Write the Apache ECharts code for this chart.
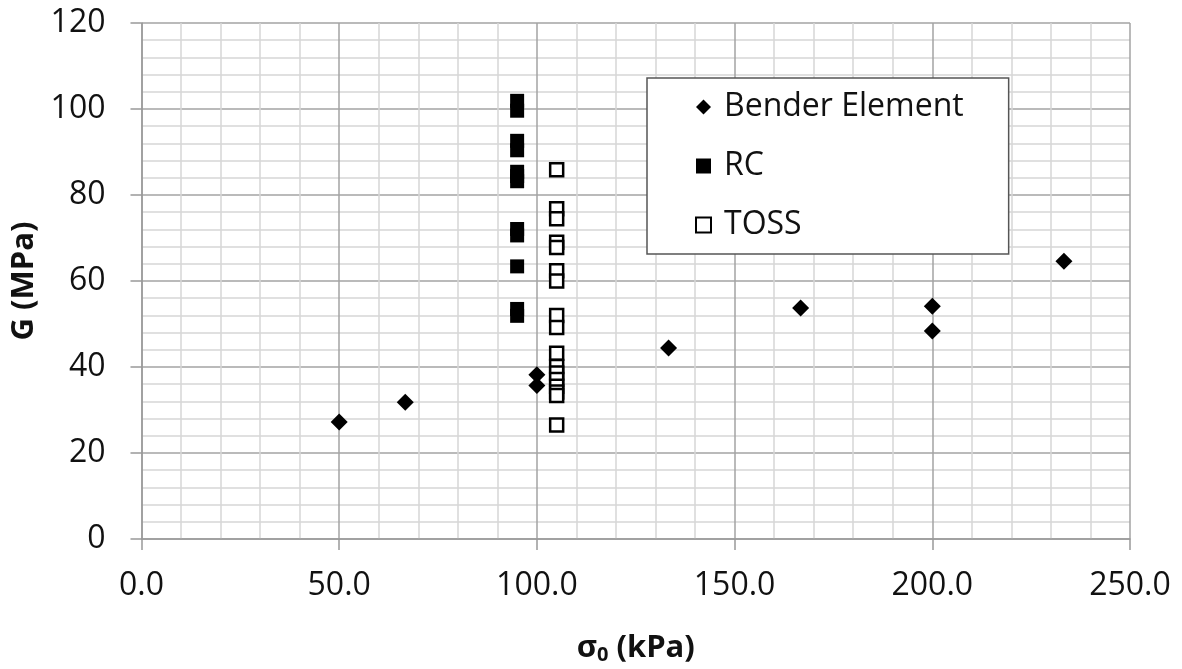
<!DOCTYPE html>
<html>
<head>
<meta charset="utf-8">
<script src="https://cdn.jsdelivr.net/npm/echarts@6/dist/echarts.min.js"></script>
<style>
  html, body { margin: 0; padding: 0; background: #fff; }
  #main { width: 1182px; height: 669px; }
</style>
</head>
<body>
<div id="main"></div>
<script>
// data: [sigma0 (kPa), G (MPa)]
var benderElement = [
  [50, 27.2], [66.7, 31.8], [100, 38.2], [100, 35.7], [133.3, 44.4],
  [166.7, 53.7], [200, 54.1], [200, 48.4], [233.3, 64.6]
];
var rc = [
  [95, 101.9], [95, 99.6], [95, 92.6], [95, 90.4], [95, 85.4], [95, 84.4], [95, 83.2],
  [95, 72.1], [95, 70.6], [95, 63.4], [95, 53.5], [95, 51.9]
];
var toss = [
  [105, 85.9], [105, 76.8], [105, 74.5], [105, 69.0], [105, 67.8], [105, 62.4], [105, 60.0],
  [105, 52.0], [105, 49.2], [105, 43.2], [105, 40.1], [105, 38.6], [105, 37.1],
  [105, 35.5], [105, 34.2], [105, 33.4], [105, 26.5]
];
var seriesNames = ["Bender Element", "RC", "TOSS"];

var font = "Open Sans";
var myChart = echarts.init(document.getElementById("main"));
var option = {
  backgroundColor: "#fff",
  animation: false,
  grid: { left: 141.5, right: 52, top: 23, bottom: 130, outerBoundsMode: "none" },
  legend: {
    orient: "vertical",
    left: 647,
    top: 78,
    padding: [13, 45, 13, 48],
    itemGap: 27,
    itemWidth: 15,
    itemHeight: 15,
    backgroundColor: "#fff",
    borderColor: "#555",
    borderWidth: 1.5,
    borderRadius: 0,
    textStyle: { fontFamily: font, fontSize: 32, color: "#111", padding: [0, 0, 0, 8] },
    data: [
      { name: seriesNames[0], icon: "diamond" },
      { name: seriesNames[1], icon: "rect" },
      { name: seriesNames[2], icon: "rect" }
    ]
  },
  xAxis: {
    type: "value",
    min: 0,
    max: 250,
    interval: 50,
    name: "{a|σ}{s|0}{a| (kPa)}",
    nameLocation: "middle",
    nameGap: 92,
    nameTextStyle: {
      rich: {
        a: { fontFamily: font, fontSize: 31, fontWeight: "bold", color: "#111" },
        s: { fontFamily: font, fontSize: 20, fontWeight: "bold", color: "#111", verticalAlign: "bottom", padding: [14, 0, 0, 0] }
      }
    },
    axisLine: { show: true, lineStyle: { color: "#999", width: 1.5 } },
    axisTick: { show: true, length: 11, lineStyle: { color: "#999", width: 1.5 } },
    axisLabel: {
      fontFamily: font, fontSize: 32, color: "#111", margin: 31,
      formatter: function (v) { return v.toFixed(1); }
    },
    splitLine: { show: true, lineStyle: { color: "#a3a3a3", width: 1.5 } },
    minorTick: { show: false, splitNumber: 5 },
    minorSplitLine: { show: true, lineStyle: { color: "#d6d6d6", width: 1.5 } }
  },
  yAxis: {
    type: "value",
    min: 0,
    max: 120,
    interval: 20,
    name: "G (MPa)",
    nameLocation: "middle",
    nameGap: 99,
    nameTextStyle: { fontFamily: font, fontSize: 31, fontWeight: "bold", color: "#111" },
    axisLine: { show: true, lineStyle: { color: "#999", width: 1.5 } },
    axisTick: { show: true, length: 11, lineStyle: { color: "#999", width: 1.5 } },
    axisLabel: { fontFamily: font, fontSize: 32, color: "#111", margin: 36 },
    splitLine: { show: true, lineStyle: { color: "#a3a3a3", width: 1.5 } },
    minorTick: { show: false, splitNumber: 5 },
    minorSplitLine: { show: true, lineStyle: { color: "#d6d6d6", width: 1.5 } }
  },
  series: [
    {
      name: seriesNames[0],
      type: "scatter",
      symbol: "diamond",
      symbolSize: 17,
      itemStyle: { color: "#000", opacity: 1 },
      data: benderElement
    },
    {
      name: seriesNames[1],
      type: "scatter",
      symbol: "rect",
      symbolSize: 14,
      itemStyle: { color: "#000", opacity: 1 },
      data: rc
    },
    {
      name: seriesNames[2],
      type: "scatter",
      symbol: "rect",
      symbolSize: 13,
      itemStyle: { color: "#fff", borderColor: "#000", borderWidth: 2.5, opacity: 1 },
      data: toss
    }
  ]
};
myChart.setOption(option);
</script>
</body>
</html>
